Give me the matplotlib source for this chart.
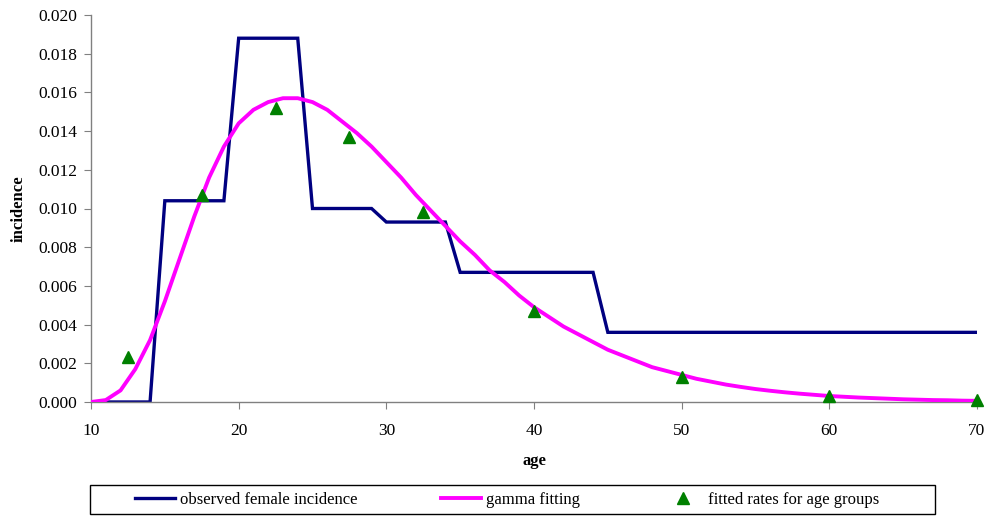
import matplotlib
matplotlib.use("Agg")
import matplotlib.pyplot as plt
from matplotlib.patches import Rectangle
from matplotlib.ticker import FormatStrFormatter

plt.rcParams['font.family'] = ['Liberation Serif', 'DejaVu Serif']

# yearly ages
ages = list(range(10, 71))

# observed female incidence (one value per year of age)
observed = ([0.0] * 5 + [0.0104] * 5 + [0.0188] * 5 + [0.0100] * 5
            + [0.0093] * 5 + [0.0067] * 10 + [0.0036] * 26)

# gamma fitting at each year
gamma_fit = [0.0, 0.0001, 0.0006, 0.0017, 0.0032, 0.0052, 0.0074, 0.0096,
             0.0116, 0.0132, 0.0144, 0.0151, 0.0155, 0.0157, 0.0157, 0.0155,
             0.0151, 0.0145, 0.0139, 0.0132, 0.0124, 0.0116, 0.0107, 0.0099,
             0.0091, 0.0083, 0.0076, 0.0068, 0.0062, 0.0055, 0.0049, 0.0044,
             0.0039, 0.0035, 0.0031, 0.0027, 0.0024, 0.0021, 0.0018, 0.0016,
             0.0014, 0.0012, 0.00105, 0.0009, 0.00078, 0.00067, 0.00058,
             0.0005, 0.00043, 0.00037, 0.00031, 0.00027, 0.00023, 0.0002,
             0.00017, 0.00014, 0.00012, 0.0001, 0.00009, 0.00007, 0.00006]

# fitted rates for age groups
group_age = [12.5, 17.5, 22.5, 27.5, 32.5, 40, 50, 60, 70]
group_rate = [0.0023, 0.0107, 0.0152, 0.0137, 0.0098, 0.0047, 0.0013,
              0.0003, 0.0001]

W, H = 989, 516
fig = plt.figure(figsize=(W / 100, H / 100), dpi=100)
ax = fig.add_axes([91 / W, 1 - 402 / H, 886 / W, 387 / H])

ax.plot(ages, observed, color='#000080', lw=2.4, solid_joinstyle='miter',
        label='observed female incidence', zorder=2)
ax.plot(ages, gamma_fit, color='#ff00ff', lw=2.8, solid_joinstyle='round',
        label='gamma fitting', zorder=3)
ax.plot(group_age, group_rate, '^', color='#008000', ms=8, ls='none',
        label='fitted rates for age groups', zorder=4, clip_on=False)

ax.set_xlim(10, 70)
ax.set_ylim(0, 0.020)
ax.set_xticks(range(10, 71, 10))
ax.set_yticks([i * 0.002 for i in range(11)])
ax.yaxis.set_major_formatter(FormatStrFormatter('%.3f'))

for s in ['top', 'right']:
    ax.spines[s].set_visible(False)
for s in ['left', 'bottom']:
    ax.spines[s].set_color('#808080')
    ax.spines[s].set_linewidth(1.0)
ax.tick_params(axis='y', direction='out', length=5, color='#808080',
               labelsize=12.5, pad=5)
ax.tick_params(axis='x', direction='out', length=5, color='#808080',
               labelsize=12.5, pad=10)

ax.set_xlabel('age', fontsize=12, fontweight='bold', labelpad=10)
ax.set_ylabel('incidence', fontsize=12, fontweight='bold', labelpad=8)

# legend box spanning under the plot, entries centred inside it
fig.patches.append(Rectangle((90 / W, 2 / H), 845 / W, 29 / H,
                             transform=fig.transFigure, fill=False,
                             edgecolor='black', lw=1.0))
fig.legend(loc='center', ncol=3, bbox_to_anchor=(507 / W, 16.5 / H),
           fontsize=12, frameon=False, handlelength=2.4, handletextpad=0.3,
           columnspacing=5.0, borderaxespad=0, borderpad=0)

fig.savefig('out.png', dpi=100)
